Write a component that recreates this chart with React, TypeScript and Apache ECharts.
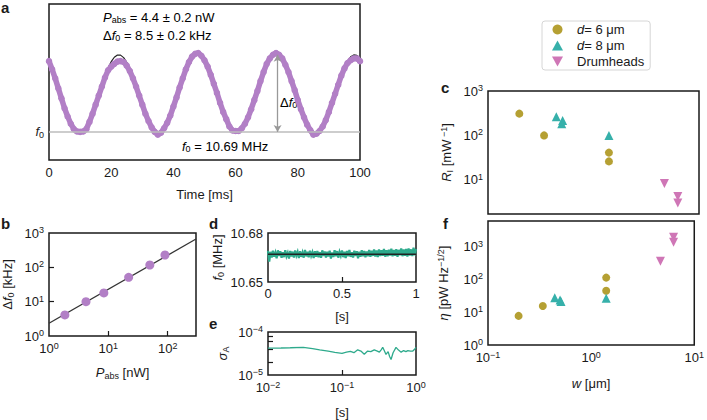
import React, { useEffect, useRef } from 'react';
import * as echarts from 'echarts';

const FONT = '"Liberation Sans", Arial, Helvetica, sans-serif';
const TXT = '#1a1a1a';
const PURPLE = '#b27fc6';
const GREEN = '#2eaa8c';
const GOLD = '#b5a033';
const TEAL = '#36b0aa';
const PINK = '#cf76b6';

// Panel a: frequency shift (kHz above f0) sampled every 1 ms, 0..100 ms
const shiftData = [
  7.8, 6.9, 5.9, 4.8, 3.7, 2.6, 1.7, 0.9, 0.3, 0.05,
  0.0, 0.05, 0.3, 1.1, 2.0, 3.0, 4.0, 5.0, 6.0, 6.8,
  7.2, 7.5, 7.75, 7.8, 7.7, 7.3, 6.7, 5.9, 5.0, 4.0,
  3.0, 2.0, 1.2, 0.5, 0.0, -0.3, -0.1, 0.4, 1.0, 1.8,
  2.8, 3.8, 4.9, 5.9, 6.9, 7.7, 8.3, 8.6, 8.7, 8.4,
  7.9, 7.2, 6.3, 5.3, 4.3, 3.2, 2.2, 1.4, 0.6, 0.15,
  0.1, 0.1, 0.4, 0.9, 1.6, 2.5, 3.5, 4.5, 5.6, 6.6,
  7.5, 8.1, 8.5, 8.7, 8.5, 8.1, 7.4, 6.6, 5.6, 4.6,
  3.5, 2.5, 1.6, 0.8, 0.2, -0.3, -0.2, 0.1, 0.6, 1.3,
  2.2, 3.2, 4.2, 5.2, 6.2, 7.0, 7.6, 7.9, 8.1, 8.1, 7.8,
];
const shiftFit = [
  7.48, 6.70, 5.77, 4.75, 3.70, 2.68, 1.76, 0.99, 0.42, 0.08,
  0.00, 0.19, 0.62, 1.27, 2.11, 3.08, 4.12, 5.17, 6.16, 7.03,
  7.74, 8.23, 8.47, 8.46, 8.19, 7.68, 6.95, 6.06, 5.06, 4.01,
  2.98, 2.01, 1.20, 0.57, 0.16, 0.00, 0.11, 0.47, 1.06, 1.84,
  2.78, 3.80, 4.86, 5.88, 6.79, 7.55, 8.11, 8.43, 8.49, 8.30,
  7.85, 7.19, 6.34, 5.36, 4.32, 3.27, 2.29, 1.42, 0.73, 0.25,
  0.02, 0.05, 0.34, 0.86, 1.59, 2.49, 3.50, 4.55, 5.58, 6.53,
  7.34, 7.97, 8.36, 8.50, 8.38, 8.01, 7.40, 6.60, 5.66, 4.64,
  3.59, 2.57, 1.66, 0.91, 0.37, 0.06, 0.01, 0.23, 0.68, 1.36,
  2.21, 3.19, 4.24, 5.29, 6.27, 7.12, 7.81, 8.27, 8.49, 8.44, 8.14,
];
const deltaF0 = 8.5;
const arrowTime = 73.5;

// Panel b
const pAbs = [1.85, 4.2, 8.4, 22, 50, 90];
const dF0 = [4.1, 10, 18, 51, 117, 229];
const fitP = [1, 300];
const fitDF = [2.35, 667];

// Panel d: f0 trace (MHz) over 0..1 s
const f0Trace = [
  10.6690, 10.6625, 10.6685, 10.6650, 10.6692, 10.6655, 10.6680, 10.6645, 10.6694, 10.6660,
  10.6688, 10.6648, 10.6682, 10.6652, 10.6695, 10.6658, 10.6678, 10.6644, 10.6690, 10.6656,
  10.6686, 10.6650, 10.6693, 10.6662, 10.6684, 10.6646, 10.6689, 10.6654, 10.6680, 10.6649,
  10.6696, 10.6657, 10.6685, 10.6651, 10.6691, 10.6660, 10.6682, 10.6647, 10.6688, 10.6655,
  10.6690, 10.6652, 10.6683, 10.6648, 10.6694, 10.6659, 10.6687, 10.6650, 10.6685, 10.6656,
  10.6692, 10.6644, 10.6681, 10.6653, 10.6695, 10.6658, 10.6689, 10.6649, 10.6684, 10.6661,
  10.6693, 10.6652, 10.6686, 10.6646, 10.6690, 10.6657, 10.6696, 10.6654, 10.6682, 10.6650,
  10.6692, 10.6659, 10.6688, 10.6645, 10.6685, 10.6655, 10.6694, 10.6658, 10.6690, 10.6651,
  10.6687, 10.6658, 10.6696, 10.6654, 10.6691, 10.6660, 10.6699, 10.6656, 10.6693, 10.6652,
  10.6700, 10.6659, 10.6695, 10.6661, 10.6702, 10.6655, 10.6694, 10.6658, 10.6698, 10.6662,
  10.6704, 10.6657, 10.6696, 10.6660, 10.6701, 10.6654, 10.6697, 10.6663, 10.6705, 10.6658,
  10.6699, 10.6661, 10.6703, 10.6656, 10.6706, 10.6662, 10.6700, 10.6659, 10.6710, 10.6664,
  10.6702,
];
const f0Mean = 10.667;

// Panel e: Allan deviation
const allanTau = [
  0.01, 0.015, 0.02, 0.03, 0.04, 0.05, 0.065, 0.08, 0.1, 0.115,
  0.13, 0.145, 0.163, 0.18, 0.2, 0.222, 0.245, 0.273, 0.3, 0.32,
  0.34, 0.355, 0.375, 0.393, 0.42, 0.44, 0.46, 0.49, 0.537, 0.58,
  0.63, 0.68, 0.73, 0.776, 0.84, 0.906, 0.95, 1.0,
];
const allanSigma = [
  4.2e-5, 4.25e-5, 4.3e-5, 4.4e-5, 4.1e-5, 3.85e-5, 3.6e-5, 3.35e-5, 3.2e-5, 3.4e-5,
  3.55e-5, 3.3e-5, 3.85e-5, 3.6e-5, 3.05e-5, 3.6e-5, 3.5e-5, 3.85e-5, 3.6e-5, 3.4e-5,
  3.9e-5, 4.4e-5, 3.6e-5, 3.0e-5, 3.5e-5, 2.7e-5, 2.3e-5, 3.3e-5, 4.4e-5, 3.8e-5,
  3.4e-5, 3.7e-5, 3.5e-5, 3.7e-5, 3.6e-5, 3.6e-5, 3.9e-5, 4.4e-5,
];

// Panels c and f
const w6 = [0.198, 0.34, 1.4, 1.4];
const r6 = [309, 100, 41, 26];
const eta6 = [7.7, 15.4, 113, 45];
const w8 = [0.444, 0.5, 0.51, 1.4];
const r8 = [263, 182, 218, 100];
const eta8 = [27.7, 23.5, 21, 26.5];
const wD = [4.7, 6.3, 6.3];
const rD = [8.3, 4.2, 3.0];
const etaD = [356, 1915, 1350];

const FS = 13;
const RICH: any = {
  n: { fontSize: FS, lineHeight: 15, fontFamily: FONT, color: TXT },
  i: { fontSize: FS, lineHeight: 15, fontStyle: 'italic', fontFamily: FONT, color: TXT },
  sub: { fontSize: 9, lineHeight: 8, verticalAlign: 'bottom', fontFamily: FONT, color: TXT },
  sup: { fontSize: 9, lineHeight: 9, verticalAlign: 'top', fontFamily: FONT, color: TXT },
};

const powLabel = (v: number) => {
  const l = Math.log10(v);
  const e = Math.round(l);
  if (Math.abs(l - e) > 1e-6) return '';
  return `{n|10}{sup|${e < 0 ? '−' + -e : e}}`;
};

const noLine = { show: false };
const inTick = (vals: number[]) => ({
  show: true, inside: true, length: 5, customValues: vals,
  lineStyle: { color: TXT, width: 1.2 },
});
const nameStyle = { rich: RICH, fontSize: FS, color: TXT, fontFamily: FONT };

const logLabel = (vals: number[], margin = 5) => ({
  customValues: vals, formatter: powLabel, rich: RICH, margin, color: TXT,
  showMinLabel: true, showMaxLabel: true,
});

const gridBase = { show: true, borderColor: '#1a1a1a', borderWidth: 1.5, backgroundColor: 'transparent', containLabel: false };
const letter = (t: string, x: number, y: number) => ({
  type: 'text', x, y, style: { text: t, font: `bold 15px ${FONT}`, fill: TXT, verticalAlign: 'bottom' },
});

const option: any = {
  animation: false,
  textStyle: { fontFamily: FONT, color: TXT, fontSize: FS },
  grid: [
    { ...gridBase, left: 49, top: 4, width: 311, height: 156 },
    { ...gridBase, left: 48, top: 233, width: 148, height: 103 },
    { ...gridBase, left: 268, top: 233, width: 148, height: 49 },
    { ...gridBase, left: 268, top: 332, width: 148, height: 48 },
    { ...gridBase, left: 488, top: 91, width: 211, height: 123 },
    { ...gridBase, left: 488, top: 221, width: 211, height: 124 },
  ],
  xAxis: [
    {
      gridIndex: 0, type: 'value', min: 0, max: 100, interval: 20,
      axisLine: noLine, axisTick: noLine, splitLine: noLine,
      axisLabel: { fontSize: FS, color: TXT, margin: 6 },
      name: 'Time [ms]', nameLocation: 'middle', nameGap: 28, nameTextStyle: nameStyle,
    },
    {
      gridIndex: 1, type: 'log', min: 1, max: 300,
      axisLine: noLine, splitLine: noLine, axisTick: inTick([10, 100]),
      axisLabel: logLabel([1, 10, 100]),
      name: '{i|P}{sub|abs}{n| [nW]}', nameLocation: 'middle', nameGap: 29, nameTextStyle: nameStyle,
    },
    {
      gridIndex: 2, type: 'value', min: 0, max: 1, interval: 0.5,
      axisLine: noLine, splitLine: noLine, axisTick: inTick([0.5]),
      axisLabel: { fontSize: FS, color: TXT, margin: 5, formatter: (v: number) => String(v) },
      name: '[s]', nameLocation: 'middle', nameGap: 28, nameTextStyle: nameStyle,
    },
    {
      gridIndex: 3, type: 'log', min: 0.01, max: 1,
      axisLine: noLine, splitLine: noLine, axisTick: inTick([0.1]),
      axisLabel: logLabel([0.01, 0.1, 1]),
      name: '[s]', nameLocation: 'middle', nameGap: 31, nameTextStyle: nameStyle,
    },
    {
      gridIndex: 4, type: 'log', min: 0.1, max: 10,
      axisLine: noLine, splitLine: noLine, axisTick: noLine, axisLabel: { show: false },
    },
    {
      gridIndex: 5, type: 'log', min: 0.1, max: 10,
      axisLine: noLine, splitLine: noLine, axisTick: noLine,
      axisLabel: logLabel([0.1, 1, 10]),
      name: '{i|w}{n| [μm]}', nameLocation: 'middle', nameGap: 31, nameTextStyle: nameStyle,
    },
  ],
  yAxis: [
    {
      gridIndex: 0, type: 'value', min: -3.1, max: 14.1,
      axisLine: noLine, axisTick: noLine, splitLine: noLine,
      axisLabel: { customValues: [0], formatter: () => '{i|f}{sub|0}', rich: RICH, margin: 5 },
    },
    {
      gridIndex: 1, type: 'log', min: 1, max: 1000,
      axisLine: noLine, splitLine: noLine, axisTick: inTick([10, 100]),
      axisLabel: logLabel([1, 10, 100, 1000]),
      name: '{n|Δ}{i|f}{sub|0}{n| [kHz]}', nameLocation: 'middle', nameRotate: 90, nameGap: 34, nameTextStyle: nameStyle,
    },
    {
      gridIndex: 2, type: 'value', min: 10.65, max: 10.68, interval: 0.03,
      axisLine: noLine, splitLine: noLine, axisTick: noLine,
      axisLabel: { customValues: [10.65, 10.68], fontSize: FS, color: TXT, margin: 5, formatter: (v: number) => v.toFixed(2) },
      name: '{i|f}{sub|0}{n| [MHz]}', nameLocation: 'middle', nameRotate: 90, nameGap: 43, nameTextStyle: nameStyle,
    },
    {
      gridIndex: 3, type: 'log', min: 1e-5, max: 1e-4,
      axisLine: noLine, splitLine: noLine, axisTick: inTick([2e-5, 4e-5, 6e-5, 8e-5]),
      axisLabel: logLabel([1e-5, 1e-4]),
      name: '{i|σ}{sub|A}', nameLocation: 'middle', nameRotate: 90, nameGap: 38, nameTextStyle: nameStyle,
    },
    {
      gridIndex: 4, type: 'log', min: 1.7, max: 1000,
      axisLine: noLine, splitLine: noLine, axisTick: noLine,
      axisLabel: logLabel([10, 100, 1000]),
      name: '{i|R}{sub|I}{n| [mW}{sup| −1}{n|]}', nameLocation: 'middle', nameRotate: 90, nameGap: 34, nameTextStyle: nameStyle,
    },
    {
      gridIndex: 5, type: 'log', min: 1, max: 6000,
      axisLine: noLine, splitLine: noLine, axisTick: noLine,
      axisLabel: logLabel([1, 10, 100, 1000]),
      name: '{i|η}{n| [pW Hz}{sup|−1/2}{n|]}', nameLocation: 'middle', nameRotate: 90, nameGap: 37, nameTextStyle: nameStyle,
    },
  ],
  legend: {
    orient: 'vertical', left: 542, top: 21,
    itemWidth: 11, itemHeight: 10, itemGap: 3,
    padding: [2, 6, 2, 10],
    backgroundColor: '#fff', borderColor: '#d6d6d6', borderWidth: 1, borderRadius: 3,
    data: ['d6', 'd8', 'Drumheads'],
    formatter: (name: string) =>
      name === 'd6' ? '{i|d}{n|= 6 μm}' : name === 'd8' ? '{i|d}{n|= 8 μm}' : '{p|Drumheads}',
    textStyle: {
      fontSize: FS, color: TXT, fontFamily: FONT,
      rich: {
        i: { fontSize: FS, lineHeight: 15, fontStyle: 'italic', fontFamily: FONT, color: TXT, padding: [0, 0, 0, 9] },
        n: { fontSize: FS, lineHeight: 15, fontFamily: FONT, color: TXT },
        p: { fontSize: FS, lineHeight: 15, fontFamily: FONT, color: TXT, padding: [0, 0, 0, 9] },
      },
    },
  },
  graphic: [
    { type: 'text', x: 1, y: 0, style: { text: 'a', font: `bold 15px ${FONT}`, fill: TXT, verticalAlign: 'top' } },
    letter('b', 1, 231),
    letter('c', 441, 95),
    letter('d', 209, 231),
    letter('e', 209, 331),
    letter('f', 443, 231),
    { type: 'text', x: 103, y: 17, style: { text: '{i|P}{sub|abs}{n| = 4.4 ± 0.2 nW}', rich: RICH, verticalAlign: 'middle' } },
    { type: 'text', x: 103, y: 35, style: { text: '{n|Δ}{i|f}{sub|0}{n| = 8.5 ± 0.2 kHz}', rich: RICH, verticalAlign: 'middle' } },
    { type: 'text', x: 182, y: 146, style: { text: '{i|f}{sub|0}{n| = 10.69 MHz}', rich: RICH, verticalAlign: 'middle' } },
    { type: 'text', x: 280, y: 102, style: { text: '{n|Δ}{i|f}{sub|0}', rich: RICH, verticalAlign: 'middle' } },
  ],
  series: [
    {
      type: 'line', xAxisIndex: 0, yAxisIndex: 0, z: 2,
      data: shiftFit.map((v, i) => [i, v]),
      showSymbol: false, lineStyle: { color: '#222', width: 1.2 },
      markLine: {
        silent: true, label: { show: false },
        data: [
          [
            { coord: [0, 0], symbol: 'none', lineStyle: { color: '#bdbdbd', width: 1.6, type: 'solid' } },
            { coord: [100, 0], symbol: 'none' },
          ],
          [
            { coord: [arrowTime, 0], symbol: 'arrow', symbolSize: [6, 7], lineStyle: { color: '#999', width: 1.3, type: 'solid' } },
            { coord: [arrowTime, deltaF0], symbol: 'arrow', symbolSize: [6, 7] },
          ],
        ],
      },
    },
    {
      type: 'line', xAxisIndex: 0, yAxisIndex: 0, z: 3,
      data: shiftData.map((v, i) => [i, v]),
      showSymbol: true, symbol: 'circle', symbolSize: 6.5,
      itemStyle: { color: PURPLE }, lineStyle: { color: PURPLE, width: 5.5 },
    },
    {
      type: 'line', xAxisIndex: 1, yAxisIndex: 1, z: 2,
      data: fitP.map((p, i) => [p, fitDF[i]]),
      showSymbol: false, lineStyle: { color: '#333', width: 1.3 },
    },
    {
      type: 'scatter', xAxisIndex: 1, yAxisIndex: 1, z: 3,
      data: pAbs.map((p, i) => [p, dF0[i]]),
      symbol: 'circle', symbolSize: 9, itemStyle: { color: PURPLE, opacity: 1 },
    },
    {
      type: 'line', xAxisIndex: 2, yAxisIndex: 2, z: 2,
      data: f0Trace.map((v, i) => [i / (f0Trace.length - 1), v]),
      showSymbol: false, lineStyle: { color: GREEN, width: 2.2, join: 'miter' },
    },
    {
      type: 'line', xAxisIndex: 2, yAxisIndex: 2, z: 3,
      data: [[0, f0Mean], [1, f0Mean]],
      showSymbol: false, lineStyle: { color: '#222', width: 1.5 },
    },
    {
      type: 'line', xAxisIndex: 3, yAxisIndex: 3,
      data: allanTau.map((t, i) => [t, allanSigma[i]]),
      showSymbol: false, lineStyle: { color: GREEN, width: 1.3 },
    },
    {
      name: 'd6', type: 'scatter', xAxisIndex: 4, yAxisIndex: 4,
      data: w6.map((w, i) => [w, r6[i]]), symbol: 'circle', symbolSize: 8, itemStyle: { color: GOLD, opacity: 1 },
    },
    {
      name: 'd8', type: 'scatter', xAxisIndex: 4, yAxisIndex: 4,
      data: w8.map((w, i) => [w, r8[i]]), symbol: 'triangle', symbolSize: 9, itemStyle: { color: TEAL, opacity: 1 },
    },
    {
      name: 'Drumheads', type: 'scatter', xAxisIndex: 4, yAxisIndex: 4,
      data: wD.map((w, i) => [w, rD[i]]), symbol: 'path://M0,0L10,0L5,9Z', symbolSize: 9, itemStyle: { color: PINK, opacity: 1 },
    },
    {
      name: 'd6', type: 'scatter', xAxisIndex: 5, yAxisIndex: 5,
      data: w6.map((w, i) => [w, eta6[i]]), symbol: 'circle', symbolSize: 8, itemStyle: { color: GOLD, opacity: 1 },
    },
    {
      name: 'd8', type: 'scatter', xAxisIndex: 5, yAxisIndex: 5,
      data: w8.map((w, i) => [w, eta8[i]]), symbol: 'triangle', symbolSize: 9, itemStyle: { color: TEAL, opacity: 1 },
    },
    {
      name: 'Drumheads', type: 'scatter', xAxisIndex: 5, yAxisIndex: 5,
      data: wD.map((w, i) => [w, etaD[i]]), symbol: 'path://M0,0L10,0L5,9Z', symbolSize: 9, itemStyle: { color: PINK, opacity: 1 },
    },
  ],
};

export default function App() {
  const ref = useRef<HTMLDivElement>(null);
  useEffect(() => {
    if (!ref.current) return;
    const chart = echarts.init(ref.current, null, { renderer: 'svg' });
    chart.setOption(option);
    return () => chart.dispose();
  }, []);
  return (
    <div
      ref={ref}
      style={{ position: 'fixed', left: 0, top: 0, width: 707, height: 420, background: '#fff' }}
    />
  );
}
